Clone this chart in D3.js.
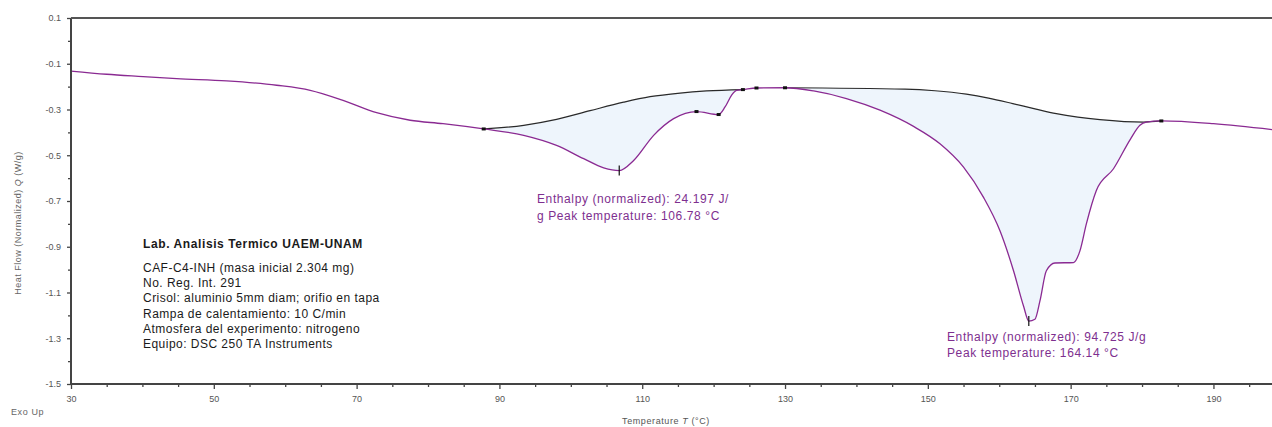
<!DOCTYPE html>
<html><head><meta charset="utf-8">
<script src="https://cdn.jsdelivr.net/npm/d3@7"></script>
<style>
body{margin:0;background:#fff;}
svg{display:block;font-family:"Liberation Sans",Arial,sans-serif;}
</style></head>
<body>
<svg id="chart" width="1272" height="427"></svg>
<script>
// ---- data ----
const temps = [30,35,40.1,44.8,51.8,58.8,63.5,68.1,72.8,77.5,82.1,87.8,93.4,98.0,101.8,104.6,106.78,108.8,111.6,114.4,117.6,120.7,121.6,122.5,123.2,124.1,126.0,130.0,134.0,138.6,143.3,148.0,151.7,155.0,157.8,160.1,162.0,163.4,164.14,165.0,165.7,166.6,167.8,170.4,171.3,172.2,173.6,176.0,178.4,179.7,180.6,182.7,190.0,198.2];
const heatFlow = [-0.132,-0.146,-0.156,-0.165,-0.175,-0.194,-0.216,-0.26,-0.314,-0.347,-0.362,-0.385,-0.413,-0.457,-0.515,-0.555,-0.567,-0.523,-0.413,-0.34,-0.309,-0.322,-0.289,-0.238,-0.216,-0.213,-0.206,-0.205,-0.219,-0.252,-0.303,-0.374,-0.45,-0.552,-0.684,-0.83,-1.005,-1.159,-1.225,-1.217,-1.137,-1.005,-0.971,-0.969,-0.918,-0.80,-0.654,-0.559,-0.428,-0.369,-0.355,-0.350,-0.362,-0.388];
const baseline1Temps = [87.8,93.4,98.0,102.7,107.4,111.1,115.3,119.0,124.1];
const baseline1Values = [-0.385,-0.369,-0.343,-0.305,-0.268,-0.244,-0.228,-0.219,-0.213];
const baseline2Temps = [130.0,146.8,151.0,155.4,158.5,161.9,165.0,168.0,171.0,174.1,180.2,182.7];
const baseline2Values = [-0.205,-0.211,-0.218,-0.233,-0.25,-0.274,-0.297,-0.318,-0.333,-0.344,-0.355,-0.350];
const markerTemps = [87.8,117.6,120.7,124.1,126.0,130.0,182.7];
const peakTemps = [106.78,164.14];
const xTicks = [30,50,70,90,110,130,150,170,190];
const xTickLabels = ["30","50","70","90","110","130","150","170","190"];
const yTicks = [0.1,-0.1,-0.3,-0.5,-0.7,-0.9,-1.1,-1.3,-1.5];
const yTickLabels = ["0.1","-0.1","-0.3","-0.5","-0.7","-0.9","-1.1","-1.3","-1.5"];
const infoTitle = "Lab. Analisis Termico UAEM-UNAM";
const infoLines = ["CAF-C4-INH (masa inicial 2.304 mg)","No. Reg. Int. 291","Crisol: aluminio 5mm diam; orifio en tapa","Rampa de calentamiento: 10 C/min","Atmosfera del experimento: nitrogeno","Equipo: DSC 250 TA Instruments"];
const peak1Text = ["Enthalpy (normalized): 24.197 J/","g Peak temperature: 106.78 °C"];
const peak2Text = ["Enthalpy (normalized): 94.725 J/g","Peak temperature: 164.14 °C"];

// ---- drawing ----
const svg = d3.select("#chart");
const x = d3.scaleLinear().domain([30,198.2]).range([71,1272]);
const y = d3.scaleLinear().domain([-1.5,0.1]).range([384,18]);
const purple = "#8a2a92", textPurple = "#7e2f8f", axisCol = "#444";

const pts = temps.map((t,i)=>({t, v:heatFlow[i]}));
const b1 = baseline1Temps.map((t,i)=>({t, v:baseline1Values[i]}));
const b2 = baseline2Temps.map((t,i)=>({t, v:baseline2Values[i]}));

function fillArea(base, t0, t1){
  const bs = d3.scaleLinear().domain(base.map(d=>d.t)).range(base.map(d=>d.v));
  const seg = pts.filter(d=>d.t>=t0-1e-9 && d.t<=t1+1e-9);
  const area = d3.area().x(d=>x(d.t)).y1(d=>y(d.v)).y0(d=>y(bs(d.t))).curve(d3.curveMonotoneX);
  svg.append("path").attr("d", area(seg)).attr("fill","#eef5fc").attr("stroke","none");
}
fillArea(b1, baseline1Temps[0], baseline1Temps[baseline1Temps.length-1]);
fillArea(b2, baseline2Temps[0], baseline2Temps[baseline2Temps.length-1]);

const line = d3.line().x(d=>x(d.t)).y(d=>y(d.v)).curve(d3.curveMonotoneX);
svg.append("path").attr("d", line(b1)).attr("fill","none").attr("stroke","#2a2a2a").attr("stroke-width",1.2);
svg.append("path").attr("d", line(b2)).attr("fill","none").attr("stroke","#2a2a2a").attr("stroke-width",1.2);
svg.append("path").attr("d", line(pts)).attr("fill","none").attr("stroke",purple).attr("stroke-width",1.3);

// markers
const byT = new Map(pts.map(d=>[d.t,d.v]));
svg.selectAll("rect.mk").data(markerTemps).enter().append("rect")
  .attr("x", d=>x(d)-2).attr("y", d=>y(byT.get(d))-1.5).attr("width",4).attr("height",3).attr("fill","#111");
svg.selectAll("line.pk").data(peakTemps).enter().append("line")
  .attr("x1", d=>x(d)).attr("x2", d=>x(d))
  .attr("y1", d=>y(byT.get(d))-5).attr("y2", d=>y(byT.get(d))+5)
  .attr("stroke","#111").attr("stroke-width",1.2);

// axes
const xMinor = d3.range(35,198,5).filter(v=>!xTicks.includes(v));
const yMinor = d3.range(0,-1.45,-0.2).map(v=>+v.toFixed(1));
const gx = svg.append("g").attr("transform","translate(0,384)");
gx.call(d3.axisBottom(x).tickValues(xMinor).tickSize(3).tickFormat(""));
gx.call(g=>g.select(".domain").remove());
const gx2 = svg.append("g").attr("transform","translate(0,384)");
gx2.call(d3.axisBottom(x).tickValues(xTicks).tickSize(5).tickPadding(7).tickFormat((d,i)=>xTickLabels[i]));
[gx,gx2].forEach(g=>{g.selectAll("line").attr("stroke",axisCol).attr("stroke-width",1.3);});
gx2.select(".domain").attr("stroke",axisCol).attr("stroke-width",2).attr("d","M71,0H1272");
gx2.selectAll("text").attr("fill","#555").attr("font-size",9).attr("font-family","Liberation Sans, Arial");

const gy = svg.append("g").attr("transform","translate(71,0)");
gy.call(d3.axisLeft(y).tickValues(yMinor).tickSize(3).tickFormat(""));
gy.call(g=>g.select(".domain").remove());
const gy2 = svg.append("g").attr("transform","translate(71,0)");
gy2.call(d3.axisLeft(y).tickValues(yTicks).tickSize(4).tickPadding(6).tickFormat((d,i)=>yTickLabels[i]));
[gy,gy2].forEach(g=>{g.selectAll("line").attr("stroke",axisCol).attr("stroke-width",1.3);});
gy2.select(".domain").attr("stroke",axisCol).attr("stroke-width",2).attr("d","M0,18V384");
gy2.selectAll("text").attr("fill","#555").attr("font-size",9).attr("font-family","Liberation Sans, Arial");

// top border
svg.append("line").attr("x1",x.range()[0]).attr("x2",x.range()[1]).attr("y1",y.range()[1]).attr("y2",y.range()[1])
  .attr("stroke","#555").attr("stroke-width",2);

// axis titles
svg.append("text").attr("x",11).attr("y",415).attr("font-size",9).attr("letter-spacing",0.6).attr("fill","#666").text("Exo Up");
const xt = svg.append("text").attr("x",666).attr("y",424).attr("text-anchor","middle").attr("font-size",9).attr("letter-spacing",0.6).attr("fill","#555");
xt.append("tspan").text("Temperature ");
xt.append("tspan").attr("font-style","italic").text("T");
xt.append("tspan").text(" (°C)");
const yt = svg.append("text").attr("transform","translate(21,223) rotate(-90)").attr("text-anchor","middle").attr("font-size",9).attr("letter-spacing",0.5).attr("fill","#666");
yt.append("tspan").text("Heat Flow (Normalized) ");
yt.append("tspan").attr("font-style","italic").text("Q");
yt.append("tspan").text(" (W/g)");

// info block
svg.append("text").attr("x",143).attr("y",248).attr("font-size",12).attr("letter-spacing",0.6).attr("font-weight","bold").attr("fill","#1a1a1a").text(infoTitle);
svg.selectAll("text.info").data(infoLines).enter().append("text")
  .attr("x",143).attr("y",(d,i)=>272+i*15.2).attr("font-size",12).attr("letter-spacing",0.47).attr("fill","#1a1a1a").text(d=>d);

// peak annotations
svg.selectAll("text.p1").data(peak1Text).enter().append("text")
  .attr("x",537).attr("y",(d,i)=>203+i*16.5).attr("font-size",12).attr("letter-spacing",0.6).attr("fill",textPurple).text(d=>d);
svg.selectAll("text.p2").data(peak2Text).enter().append("text")
  .attr("x",947).attr("y",(d,i)=>341+i*15.5).attr("font-size",12).attr("letter-spacing",0.6).attr("fill",textPurple).text(d=>d);
</script>
</body></html>
